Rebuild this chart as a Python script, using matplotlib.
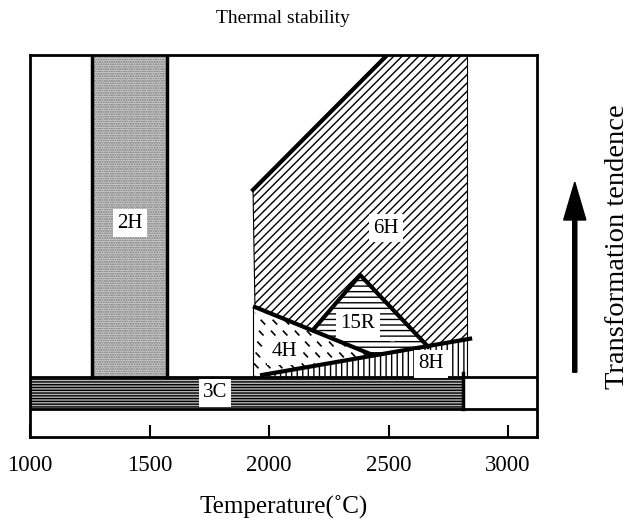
import matplotlib.pyplot as plt
import numpy as np
from matplotlib.patches import Polygon, Rectangle, FancyArrow

plt.rcParams['font.family'] = ['Liberation Serif', 'DejaVu Serif']
plt.rcParams['hatch.linewidth'] = 1.0

# phase regions (temperature in C, y is arbitrary 0..100)
t_2h = [1260, 1575]
t_3c_end = 2810
band_3c = [7.3, 15.7]
t_6h_right = 2830

poly_6h_T = [1933, 2494, 2830, 2830, 2665, 2381, 2184, 1941]
poly_6h_y = [64.7, 100, 100, 25.8, 23.6, 42.4, 28.0, 34.0]

line_4h_T = [1941, 2431]
line_4h_y = [34.0, 21.5]
line_8h_T = [1971, 2841]
line_8h_y = [16.2, 25.7]

tri_15r_T = [2184, 2381, 2665]
tri_15r_y = [28.0, 42.4, 23.6]

labels = ['2H', '6H', '15R', '4H', '8H', '3C']
label_T = [1418, 2490, 2372, 2063, 2678, 1774]
label_y = [56, 54.7, 29.6, 22.3, 19.1, 11.5]

xticks = [1000, 1500, 2000, 2500, 3000]

fig = plt.figure(figsize=(6.33, 5.25), dpi=100)
ax = fig.add_axes([0.0474, 0.168, 0.8006, 0.727])
ax.set_xlim(1000, 3120)
ax.set_ylim(0, 100)

def y_on(T, xs, ys):
    return np.interp(T, xs, ys)

# 2H band (stipple)
ax.add_patch(Rectangle((t_2h[0], band_3c[1]), t_2h[1] - t_2h[0], 100 - band_3c[1],
                       facecolor='#d6d6d6', edgecolor='#6e6e6e', hatch='.......', lw=0))
for t in t_2h:
    ax.plot([t, t], [band_3c[1], 100], c='k', lw=2.5)

# 3C band
ax.add_patch(Rectangle((1000, band_3c[0]), t_3c_end - 1000, band_3c[1] - band_3c[0],
                       facecolor='#b4b4b4', edgecolor='k', hatch='------', lw=0))
ax.axhline(band_3c[0], c='k', lw=2)
ax.axhline(band_3c[1], c='k', lw=2)
ax.plot([t_3c_end, t_3c_end], [band_3c[0], band_3c[1] + 1], c='k', lw=2.5)

# 6H region
ax.add_patch(Polygon(list(zip(poly_6h_T, poly_6h_y)), closed=True,
                     facecolor='white', edgecolor='k', hatch='////', lw=0))
ax.plot(poly_6h_T[:2], poly_6h_y[:2], c='k', lw=3)
ax.plot([poly_6h_T[0], poly_6h_T[-1]], [poly_6h_y[0], poly_6h_y[-1]], c='k', lw=0.8)
ax.plot([t_6h_right, t_6h_right], [band_3c[1], 100], c='k', lw=0.8)

# 15R triangle
ax.add_patch(Polygon(list(zip(tri_15r_T, tri_15r_y)), closed=True,
                     facecolor='white', edgecolor='k', hatch='---', lw=0))
ax.plot(tri_15r_T, tri_15r_y, c='k', lw=3)

# 8H region (vertical lines)
e1 = y_on(t_6h_right, line_8h_T, line_8h_y)
poly_8h = [(line_8h_T[0], band_3c[1]), (line_8h_T[0], line_8h_y[0]),
           (t_6h_right, e1), (t_6h_right, band_3c[1])]
ax.add_patch(Polygon(poly_8h, closed=True, facecolor='white', edgecolor='k',
                     hatch='|||', lw=0))

# 15R lower part between 4H line and 8H line
x_meet = line_4h_T[1]
poly_15r_low = [(tri_15r_T[0], tri_15r_y[0]), (x_meet, y_on(x_meet, line_8h_T, line_8h_y)),
                (tri_15r_T[2], tri_15r_y[2])]
ax.add_patch(Polygon(poly_15r_low, closed=True, facecolor='white', edgecolor='k',
                     hatch='---', lw=0))

# 4H region (broken dashes)
poly_4h = Polygon([(1933, band_3c[1]), (line_4h_T[0], line_4h_y[0]),
                   (line_4h_T[1], y_on(line_4h_T[1], line_8h_T, line_8h_y)),
                   (line_8h_T[0], line_8h_y[0])], closed=True,
                  facecolor='white', edgecolor='none', lw=0)
ax.add_patch(poly_4h)
for off in np.arange(-700, 700, 50):
    ln, = ax.plot([1900 + off, 2500 + off], [45, 5], c='k', lw=1.2,
                  ls=(0, (4, 5)))
    ln.set_clip_path(poly_4h)
ax.plot([1933, 1933], [band_3c[1], 34.0], c='k', lw=0.8)

# thick boundary lines
ax.plot(line_4h_T, line_4h_y, c='k', lw=3)
ax.plot(line_8h_T, line_8h_y, c='k', lw=3)

# phase labels
for s, t, y in zip(labels, label_T, label_y):
    ax.text(t, y, s, ha='center', va='center', fontsize=15,
            bbox=dict(facecolor='white', edgecolor='none', pad=3))

for sp in ax.spines.values():
    sp.set_linewidth(2)
ax.set_xticks(xticks)
ax.set_yticks([])
ax.tick_params(axis='x', direction='in', length=9, width=1.5, labelsize=16.5, pad=13)
ax.set_xlabel('Temperature(˚C)', fontsize=18, labelpad=14)
ax.set_title('Thermal stability', fontsize=14, pad=23)

# right-side arrow and text
fig.patches.append(FancyArrow(
    0.908, 0.291, 0, 0.362, width=0.0065, head_width=0.035, head_length=0.072,
    length_includes_head=True, color='k', transform=fig.transFigure))
fig.text(0.976, 0.53, 'Transformation tendence', rotation=90, fontsize=20.5,
         ha='center', va='center')

fig.savefig('out.png', dpi=100)
